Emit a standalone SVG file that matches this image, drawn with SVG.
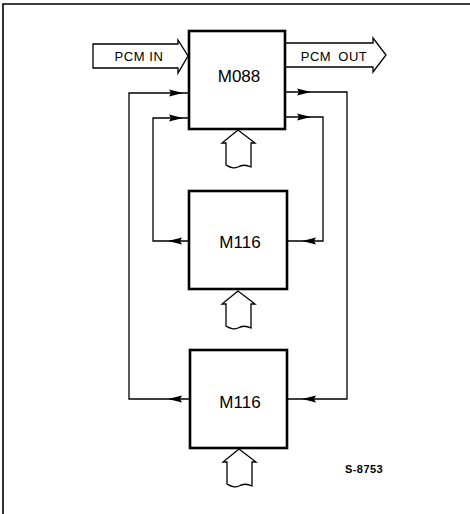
<svg xmlns="http://www.w3.org/2000/svg" xmlns:xlink="http://www.w3.org/1999/xlink" width="470" height="514" viewBox="0 0 470 514">
<style>
.box{fill:#fff;stroke:#000;stroke-width:2.6}
.ln{fill:none;stroke:#000;stroke-width:1.3}
.bus{fill:#fff;stroke:#000;stroke-width:1.3;stroke-linejoin:miter}
.lbl{font-family:"Liberation Sans",Arial,sans-serif;fill:#000;text-anchor:middle}
.ah{fill:#000}
</style>
<defs>
<path id="ah" d="M0,0 L-14,-3.6 L-12,0 L-14,3.6 Z"/>
<path id="up" d="M0,0 L-16,13 L-12,13 L-12,35 C-8,37 -5,39 0,37 C5,34 9,35 13,37 L13,13 L17,13 Z"/>
</defs>
<g id="frame">
<path class="ln" d="M3,514 L3,4 L470,4" style="stroke-width:1.6"/>
</g>
<g id="connectors">
<polyline class="ln" points="189,93 129,93 129,399 190,399"/>
<polyline class="ln" points="189,118 153,118 153,241 189,241"/>
<polyline class="ln" points="285,92 347,92 347,399 287,399"/>
<polyline class="ln" points="285,117 323,117 323,241 287,241"/>
<use href="#ah" class="ah" transform="translate(183,93)"/>
<use href="#ah" class="ah" transform="translate(183,118)"/>
<use href="#ah" class="ah" transform="translate(311,92)"/>
<use href="#ah" class="ah" transform="translate(311,117)"/>
<use href="#ah" class="ah" transform="translate(168,241) rotate(180)"/>
<use href="#ah" class="ah" transform="translate(302,241) rotate(180)"/>
<use href="#ah" class="ah" transform="translate(168,399) rotate(180)"/>
<use href="#ah" class="ah" transform="translate(302,399) rotate(180)"/>
</g>
<g id="pcm-in">
<path class="bus" d="M93,44 L178,44 L178,40 L188,56 L178,73 L178,68 L93,68 Z"/>
<text class="lbl" x="139" y="61" font-size="13" style="letter-spacing:0.6px">PCM IN</text>
</g>
<g id="pcm-out">
<path class="bus" d="M285,43 L373,43 L373,38 L386,55 L373,72 L373,67 L285,67 Z"/>
<text class="lbl" x="334" y="61" font-size="13" style="letter-spacing:0.5px;word-spacing:3px">PCM OUT</text>
</g>
<g id="m088">
<rect class="box" x="189" y="31" width="96" height="98"/>
<text class="lbl" x="239" y="82" font-size="17">M088</text>
</g>
<g id="bus1">
<use href="#up" class="bus" transform="translate(238,130)"/>
</g>
<g id="m116a">
<rect class="box" x="189" y="191" width="98" height="98"/>
<text class="lbl" x="240" y="248" font-size="17">M116</text>
</g>
<g id="bus2">
<use href="#up" class="bus" transform="translate(238,291)"/>
</g>
<g id="m116b">
<rect class="box" x="190" y="350" width="97" height="98"/>
<text class="lbl" x="240" y="408" font-size="17">M116</text>
</g>
<g id="bus3">
<use href="#up" class="bus" transform="translate(239,449)"/>
</g>
<text class="lbl" x="364" y="473" font-size="11" font-weight="bold" style="letter-spacing:0.4px">S-8753</text>
</svg>
